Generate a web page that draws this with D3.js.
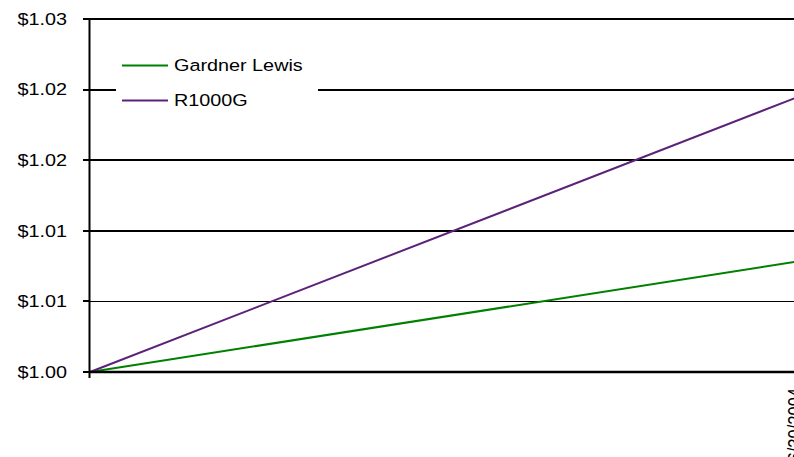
<!DOCTYPE html>
<html><head><meta charset="utf-8">
<script src="https://cdn.jsdelivr.net/npm/d3@7"></script>
<style>body{margin:0;background:#fff}svg{display:block}</style>
</head><body>
<svg id="c" width="794" height="457"></svg>
<script>
const dates = ["03/31/2004", "06/30/2004"];
const gardnerLewis = [1.0000, 1.0078];
const r1000g = [1.0000, 1.0194];
const yTicks = [1.000, 1.005, 1.010, 1.015, 1.020, 1.025];
const xLabels = ["", "06/30/2004"];
const seriesNames = ["Gardner Lewis", "R1000G"];
const seriesColors = ["#008000", "#5c2279"];

const svg = d3.select("#c");
const font = "'Liberation Sans', Arial, sans-serif";
const SX = 1.2;
const x = d3.scalePoint().domain(dates).range([90, 795]);
const y = d3.scaleLinear().domain([1.000, 1.025]).range([372, 19]);

// gridlines
svg.append("g").selectAll("line").data(yTicks.slice(1)).join("line")
  .attr("x1", 90).attr("x2", 800)
  .attr("y1", d => Math.round(y(d))).attr("y2", d => Math.round(y(d)))
  .attr("stroke", "#000").attr("stroke-width", d => d === 1.005 ? 1 : 2)
  .attr("shape-rendering", "crispEdges");

// left ticks
svg.append("g").selectAll("line").data(yTicks).join("line")
  .attr("x1", 83).attr("x2", 90)
  .attr("y1", d => Math.round(y(d))).attr("y2", d => Math.round(y(d)))
  .attr("stroke", "#000").attr("stroke-width", 2).attr("shape-rendering", "crispEdges");

// y labels
const fmt = d => "$" + (Math.round(d * 100 + 1e-6) / 100).toFixed(2);
svg.append("g").selectAll("text").data(yTicks).join("text")
  .attr("transform", d => `translate(67,${y(d)}) scale(${SX},1)`)
  .attr("text-anchor", "end").attr("dy", "0.35em")
  .attr("font-family", font).attr("font-size", 16.5).attr("fill", "#000")
  .text(fmt);

// legend background
svg.append("rect").attr("x", 116).attr("y", 40).attr("width", 202).attr("height", 76).attr("fill", "#fff");

// series lines
const series = [gardnerLewis, r1000g];
const line = d3.line().x((d, i) => x(dates[i])).y(d => y(d));
series.forEach((s, k) => {
  svg.append("path").datum(s).attr("d", line)
    .attr("fill", "none").attr("stroke", seriesColors[k]).attr("stroke-width", 2);
});

// y axis line
svg.append("line").attr("x1", 89.5).attr("x2", 89.5).attr("y1", 19).attr("y2", 378)
  .attr("stroke", "#000").attr("stroke-width", 2);
// x axis line
svg.append("line").attr("x1", 89).attr("x2", 800).attr("y1", 372).attr("y2", 372)
  .attr("stroke", "#000").attr("stroke-width", 2.5);

// x labels
svg.append("g").selectAll("text").data(dates).join("text")
  .attr("transform", d => `translate(${x(d)},388) scale(${SX},1) rotate(-90)`)
  .attr("text-anchor", "end").attr("dy", "0.35em")
  .attr("font-family", font).attr("font-size", 16.5).attr("fill", "#000")
  .text((d, i) => xLabels[i]);

// legend
const lg = svg.append("g");
seriesNames.forEach((n, k) => {
  const yy = 65.5 + k * 35;
  lg.append("line").attr("x1", 122).attr("x2", 168).attr("y1", yy).attr("y2", yy)
    .attr("stroke", seriesColors[k]).attr("stroke-width", 2);
  lg.append("text").attr("transform", `translate(174,${yy}) scale(${SX},1)`)
    .attr("dy", "0.35em").attr("font-family", font).attr("font-size", 16.5).attr("fill", "#000")
    .text(n);
});
</script>
</body></html>
